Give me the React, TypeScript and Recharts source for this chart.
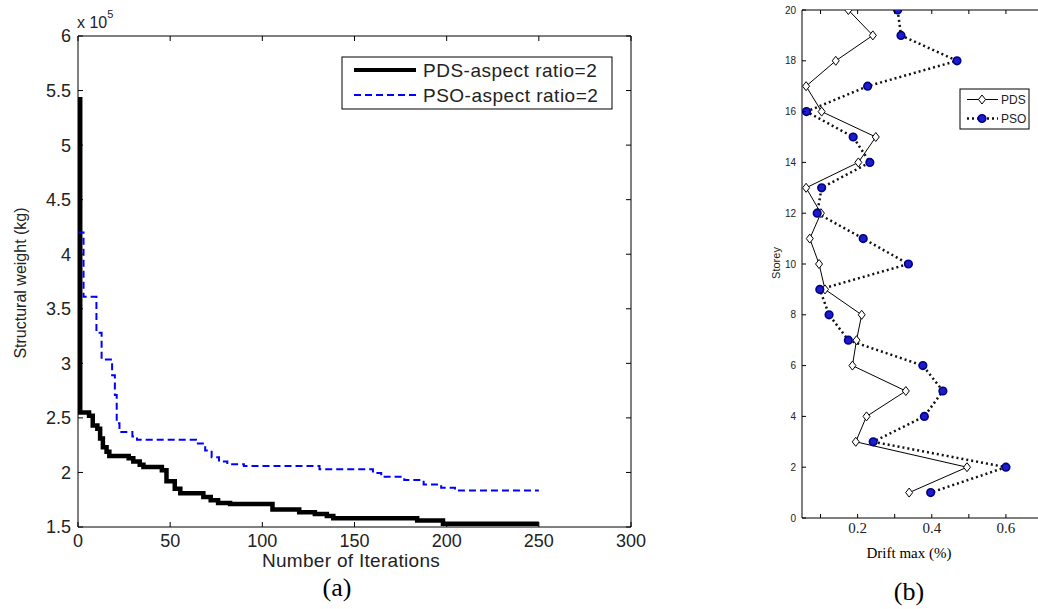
import React from "react";
import { LineChart, Line, XAxis, YAxis } from "recharts";

// (a) convergence history, structural weight in units of 10^5 kg
const pdsIter = [0, 1.2, 6, 8, 10.5, 12, 13.5, 15.5, 17, 27.5, 30, 33.5, 35.5, 45.5, 48, 52.5, 55.5, 68, 72, 76, 82.5, 105.5, 120, 128.5, 135, 138.5, 184, 198, 250];
const pdsWeight = [5.42, 2.55, 2.52, 2.43, 2.4, 2.31, 2.23, 2.19, 2.15, 2.13, 2.1, 2.07, 2.05, 2.02, 1.92, 1.85, 1.81, 1.775, 1.745, 1.72, 1.71, 1.66, 1.635, 1.62, 1.6, 1.58, 1.56, 1.53, 1.53];
const psoIter = [0, 3, 10, 12.8, 18.5, 20, 21, 22.5, 29.5, 32, 64, 69, 72.5, 76.5, 81, 90, 131, 160, 164.5, 177, 187.5, 197, 204.5, 250];
const psoWeight = [4.2, 3.61, 3.28, 3.035, 2.89, 2.71, 2.45, 2.37, 2.33, 2.3, 2.265, 2.2, 2.14, 2.1, 2.075, 2.06, 2.03, 1.995, 1.96, 1.93, 1.89, 1.86, 1.835, 1.835];
const iterTicks = [0, 50, 100, 150, 200, 250, 300];
const weightTicks = [1.5, 2, 2.5, 3, 3.5, 4, 4.5, 5, 5.5, 6];

// (b) maximum drift per storey (%)
const storeys = [20, 19, 18, 17, 16, 15, 14, 13, 12, 11, 10, 9, 8, 7, 6, 5, 4, 3, 2, 1];
const pdsDrift = [0.175, 0.241, 0.141, 0.061, 0.103, 0.249, 0.202, 0.061, 0.101, 0.071, 0.096, 0.112, 0.211, 0.197, 0.186, 0.33, 0.224, 0.195, 0.495, 0.339];
const psoDrift = [0.308, 0.317, 0.468, 0.227, 0.062, 0.188, 0.233, 0.103, 0.091, 0.215, 0.337, 0.098, 0.123, 0.175, 0.376, 0.43, 0.38, 0.242, 0.6, 0.397];
const driftTicks = [0.1, 0.2, 0.3, 0.4, 0.5, 0.6];
const driftLabels = [0.2, 0.4, 0.6];
const storeyTicks = [0, 2, 4, 6, 8, 10, 12, 14, 16, 18, 20];

const pdsData = pdsIter.map((it, i) => ({ it, w: pdsWeight[i] }));
const psoData = psoIter.map((it, i) => ({ it, w: psoWeight[i] }));
const driftData = storeys.map((storey, i) => ({ storey, pds: pdsDrift[i], pso: psoDrift[i] }));

const sans = "'Liberation Sans', Arial, Helvetica, sans-serif";
const serif = "'Liberation Serif', 'Times New Roman', serif";
const ink = "#222";

type TickOpts = {
  len: number;
  label?: (v: number) => string | null;
  fontSize?: number;
  fontFamily?: string;
  gap?: number;
};

// inward tick marks, MATLAB style
function makeTick(side: "bottom" | "top" | "left" | "right", o: TickOpts) {
  return (props: any) => {
    const { x, y, payload } = props;
    const v = payload.value;
    const txt = o.label ? o.label(v) : null;
    const fs = o.fontSize || 12;
    const gap = o.gap || 0;
    let ln;
    if (side === "bottom") ln = <line x1={x} y1={y} x2={x} y2={y - o.len} stroke="#000" />;
    else if (side === "top") ln = <line x1={x} y1={y} x2={x} y2={y + o.len} stroke="#000" />;
    else if (side === "left") ln = <line x1={x} y1={y} x2={x + o.len} y2={y} stroke="#000" />;
    else ln = <line x1={x} y1={y} x2={x - o.len} y2={y} stroke="#000" />;
    return (
      <g>
        {ln}
        {txt !== null && side === "bottom" && (
          <text x={x} y={y + gap} textAnchor="middle" fontSize={fs} fontFamily={o.fontFamily} fill={ink}>
            {txt}
          </text>
        )}
        {txt !== null && side === "left" && (
          <text x={x - gap} y={y + fs * 0.36} textAnchor="end" fontSize={fs} fontFamily={o.fontFamily} fill={ink}>
            {txt}
          </text>
        )}
      </g>
    );
  };
}

const Diamond = (p: any) => {
  const { cx, cy, index } = p;
  if (cx == null || cy == null) return <g key={"d" + index} />;
  return (
    <polygon
      key={"d" + index}
      points={`${cx},${cy - 4.5} ${cx + 3.5},${cy} ${cx},${cy + 4.5} ${cx - 3.5},${cy}`}
      fill="#fff"
      stroke="#000"
      strokeWidth={1}
    />
  );
};

const BlueCircle = (p: any) => {
  const { cx, cy, index } = p;
  if (cx == null || cy == null) return <g key={"c" + index} />;
  return <circle key={"c" + index} cx={cx} cy={cy} r={3.8} fill="#1c1cc8" stroke="#000088" strokeWidth={1.6} />;
};

function WeightChart() {
  return (
    <LineChart width={700} height={609} margin={{ top: 26, right: 59, left: 18, bottom: 42 }}>
      <XAxis
        dataKey="it"
        type="number"
        domain={[0, 300]}
        ticks={iterTicks}
        interval={0}
        allowDataOverflow
        height={40}
        tickSize={0}
        tickMargin={0}
        tickLine={false}
        axisLine={{ stroke: "#000" }}
        tick={makeTick("bottom", { len: 5, label: (v) => String(v), fontSize: 18, fontFamily: sans, gap: 19.5 })}
      />
      <XAxis
        xAxisId="top"
        orientation="top"
        dataKey="it"
        type="number"
        domain={[0, 300]}
        ticks={iterTicks}
        interval={0}
        allowDataOverflow
        height={10}
        tickSize={0}
        tickMargin={0}
        tickLine={false}
        axisLine={{ stroke: "#000" }}
        tick={makeTick("top", { len: 5 })}
      />
      <YAxis
        type="number"
        domain={[1.5, 6]}
        ticks={weightTicks}
        interval={0}
        allowDataOverflow
        width={60}
        tickSize={0}
        tickMargin={0}
        tickLine={false}
        axisLine={{ stroke: "#000" }}
        tick={makeTick("left", { len: 5, label: (v) => String(v), fontSize: 18, fontFamily: sans, gap: 7 })}
      />
      <YAxis
        yAxisId="right"
        orientation="right"
        type="number"
        domain={[1.5, 6]}
        ticks={weightTicks}
        interval={0}
        allowDataOverflow
        width={10}
        tickSize={0}
        tickMargin={0}
        tickLine={false}
        axisLine={{ stroke: "#000" }}
        tick={makeTick("right", { len: 5 })}
      />
      <Line
        data={pdsData}
        dataKey="w"
        type="stepAfter"
        stroke="#000"
        strokeWidth={4.5}
        dot={false}
        isAnimationActive={false}
      />
      <Line
        data={psoData}
        dataKey="w"
        type="stepAfter"
        stroke="#0000ff"
        strokeWidth={2}
        strokeDasharray="7 4"
        dot={false}
        isAnimationActive={false}
      />
    </LineChart>
  );
}

function DriftChart() {
  return (
    <LineChart
      width={320}
      height={609}
      layout="vertical"
      data={driftData}
      margin={{ top: 5, right: 7, left: 22, bottom: 61 }}
    >
      <XAxis
        type="number"
        domain={[0.05, 0.7]}
        ticks={driftTicks}
        interval={0}
        allowDataOverflow
        height={30}
        tickSize={0}
        tickMargin={0}
        tickLine={false}
        axisLine={{ stroke: "#000" }}
        tick={makeTick("bottom", {
          len: 4,
          label: (v) => (driftLabels.includes(v) ? String(v) : null),
          fontSize: 15,
          fontFamily: serif,
          gap: 15,
        })}
      />
      <XAxis
        xAxisId="top"
        orientation="top"
        type="number"
        domain={[0.05, 0.7]}
        ticks={driftTicks}
        interval={0}
        allowDataOverflow
        height={5}
        tickSize={0}
        tickMargin={0}
        tickLine={false}
        axisLine={{ stroke: "#000" }}
        tick={makeTick("top", { len: 4 })}
      />
      <YAxis
        dataKey="storey"
        type="number"
        domain={[0, 20]}
        ticks={storeyTicks}
        interval={0}
        reversed
        allowDataOverflow
        width={40}
        tickSize={0}
        tickMargin={0}
        tickLine={false}
        axisLine={{ stroke: "#000" }}
        tick={makeTick("left", { len: 4, label: (v) => String(v), fontSize: 10, fontFamily: sans, gap: 6 })}
      />
      <YAxis
        yAxisId="right"
        orientation="right"
        dataKey="storey"
        type="number"
        domain={[0, 20]}
        ticks={storeyTicks}
        interval={0}
        reversed
        allowDataOverflow
        width={10}
        tickSize={0}
        tickMargin={0}
        tickLine={false}
        axisLine={{ stroke: "#000" }}
        tick={makeTick("right", { len: 4 })}
      />
      <Line
        dataKey="pds"
        type="linear"
        stroke="#000"
        strokeWidth={1}
        dot={Diamond}
        isAnimationActive={false}
      />
      <Line
        dataKey="pso"
        type="linear"
        stroke="#111"
        strokeWidth={2.5}
        strokeDasharray="2 3"
        dot={BlueCircle}
        isAnimationActive={false}
      />
    </LineChart>
  );
}

export default function App() {
  return (
    <div
      style={{
        position: "absolute",
        left: 0,
        top: 0,
        width: 1038,
        height: 609,
        overflow: "hidden",
        background: "#fff",
      }}
    >
      <div style={{ position: "absolute", left: 0, top: 0 }}>
        <WeightChart />
      </div>
      <div style={{ position: "absolute", left: 740, top: 0 }}>
        <DriftChart />
      </div>
      <svg
        width={1038}
        height={609}
        style={{ position: "absolute", left: 0, top: 0, pointerEvents: "none" }}
      >
        {/* (a) labels */}
        <text x={77} y={28} fontSize={16} fontFamily={sans} fill={ink}>
          x 10
          <tspan dy={-10} fontSize={11}>5</tspan>
        </text>
        <text
          x={26}
          y={283}
          transform="rotate(-90 26 283)"
          textAnchor="middle"
          fontSize={16}
          fontFamily={sans}
          fill={ink}
        >
          Structural weight (kg)
        </text>
        <text x={351} y={567} textAnchor="middle" fontSize={19} letterSpacing={0.3} fontFamily={sans} fill={ink}>
          Number of Iterations
        </text>
        <text x={337} y={596} textAnchor="middle" fontSize={26} fontFamily={serif} fill="#000">
          (a)
        </text>
        <rect x={342} y={57} width={270} height={52} fill="#fff" stroke="#000" />
        <line x1={354} y1={70} x2={416} y2={70} stroke="#000" strokeWidth={4} />
        <text x={423} y={77} fontSize={19} letterSpacing={0.5} fontFamily={sans} fill={ink}>
          PDS-aspect ratio=2
        </text>
        <line x1={354} y1={95} x2={416} y2={95} stroke="#0000ff" strokeWidth={2} strokeDasharray="7 4" />
        <text x={423} y={102} fontSize={19} letterSpacing={0.5} fontFamily={sans} fill={ink}>
          PSO-aspect ratio=2
        </text>

        {/* (b) labels */}
        <text
          x={780}
          y={263}
          transform="rotate(-90 780 263)"
          textAnchor="middle"
          fontSize={11}
          fontFamily={sans}
          fill={ink}
        >
          Storey
        </text>
        <text x={909} y={558} textAnchor="middle" fontSize={15} fontFamily={serif} fill="#000">
          Drift max (%)
        </text>
        <text x={909} y={600} textAnchor="middle" fontSize={26} fontFamily={serif} fill="#000">
          (b)
        </text>
        <rect x={960} y={89} width={69} height={40} fill="#fff" stroke="#000" />
        <line x1={967} y1={99.5} x2={998} y2={99.5} stroke="#000" strokeWidth={1} />
        <polygon points="982,95 985.5,99.5 982,104 978.5,99.5" fill="#fff" stroke="#000" />
        <text x={1001} y={103.5} fontSize={12} fontFamily={sans} fill={ink}>
          PDS
        </text>
        <line x1={967} y1={118.5} x2={998} y2={118.5} stroke="#111" strokeWidth={2.5} strokeDasharray="2 3" />
        <circle cx={982} cy={118.5} r={3.8} fill="#1c1cc8" stroke="#000088" strokeWidth={1.6} />
        <text x={1001} y={122.5} fontSize={12} fontFamily={sans} fill={ink}>
          PSO
        </text>
      </svg>
    </div>
  );
}
